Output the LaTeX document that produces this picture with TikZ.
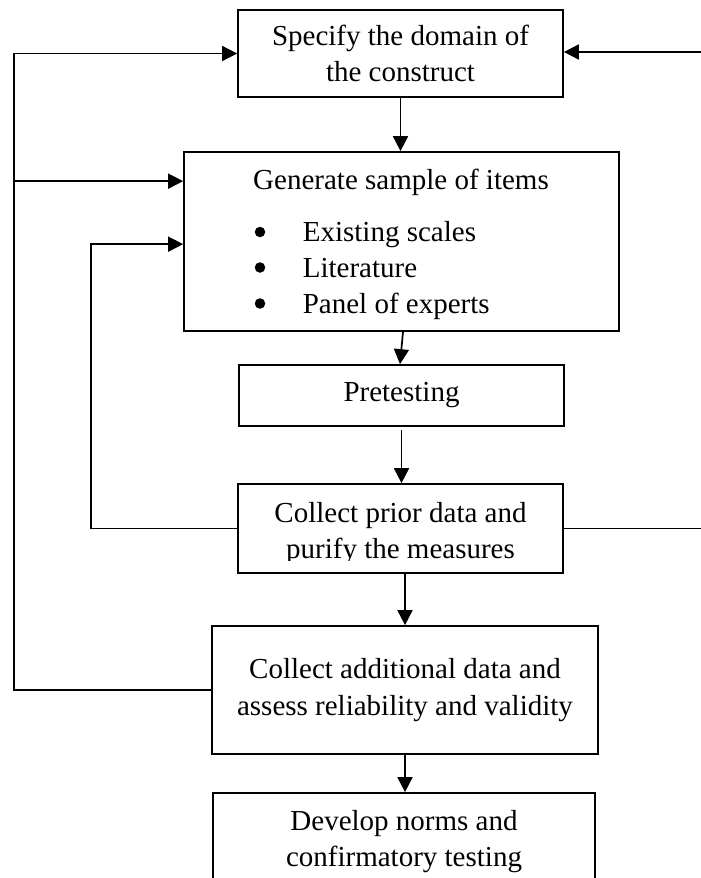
\documentclass[tikz,border=0pt]{standalone}
\usepackage{fontspec}
\setmainfont{Liberation Serif}
\usetikzlibrary{arrows.meta,calc}
\begin{document}
\begin{tikzpicture}[x=1pt,y=-1pt, line width=1.7pt,
  box/.style={draw, line width=1.7pt, inner sep=0pt, align=center, font=\fontsize{29}{36.5}\selectfont},
  arr/.style={-{Triangle[length=15pt,width=15pt]}},
  txt/.style={inner sep=0pt, font=\fontsize{29}{36.5}\selectfont},
  dot/.style={circle, fill, inner sep=0pt, minimum size=10.5pt}]
\clip (0,0) rectangle (701,878);
\fill[white] (0,0) rectangle (701,878);

% boxes
\node[box, minimum width=325pt, minimum height=87pt] (dom) at (400.5,53.5) {Specify the domain of\\the construct};

\node[box, minimum width=435pt, minimum height=179pt] (gen) at (401.5,241.5) {};
\node[txt, anchor=base] (gent) at (401,189) {Generate sample of items};
\node[dot] (b1) at (260,232) {};
\node[txt, anchor=base west] (i1) at (302,241) {Existing scales};
\node[dot] (b2) at (260,267.5) {};
\node[txt, anchor=base west] (i2) at (302,277) {Literature};
\node[dot] (b3) at (260,303.5) {};
\node[txt, anchor=base west] (i3) at (302,313) {Panel of experts};

\node[box, minimum width=325pt, minimum height=61pt] (pre) at (401.5,395.5) {Pretesting};

\node[box, minimum width=325pt, minimum height=89pt] (prior) at (400.5,528.5) {};
\begin{scope}
\clip (238,484) rectangle (563,560);
\node[txt, align=center] (priort) at (400.5,533.5) {Collect prior data and\\purify the measures};
\end{scope}

\node[box, minimum width=386pt, minimum height=128pt] (add) at (405,690) {Collect additional data and\\assess reliability and validity};

\node[box, minimum width=382pt, minimum height=97pt] (dev) at (404,841.5) {Develop norms and\\confirmatory testing};

% coordinates
\coordinate (L) at (14,0);
\coordinate (M) at (91,0);
\coordinate (R) at (710,0);
\coordinate (ga) at ($(gen.north west)+(0,30)$);
\coordinate (gb) at ($(gen.north west)+(0,93)$);
\coordinate (r1) at (710,52);

% main flow
\draw[arr] (dom.south) -- (dom.south |- gen.north);
\draw[arr] ($(gen.south)+(1.5,0)$) -- ($(pre.north)+(-1.5,0)$);
\draw[arr] ($(pre.south)+(0,3)$) -- (pre.south |- prior.north);
\draw[arr] (prior.south -| add.north) -- (add.north);
\draw[arr] (add.south) -- (add.south |- dev.north);

% feedback loops
\draw[arr] (add.west) -- (add.west -| L) -- (L |- dom.west) -- (dom.west);
\draw[arr] (L |- ga) -- (ga);
\draw[arr] (prior.west) -- (prior.west -| M) -- (M |- gb) -- (gb);
\draw[arr] (r1) -- (r1 -| dom.east);
\draw (prior.east) -- (prior.east -| R);
\end{tikzpicture}
\end{document}
